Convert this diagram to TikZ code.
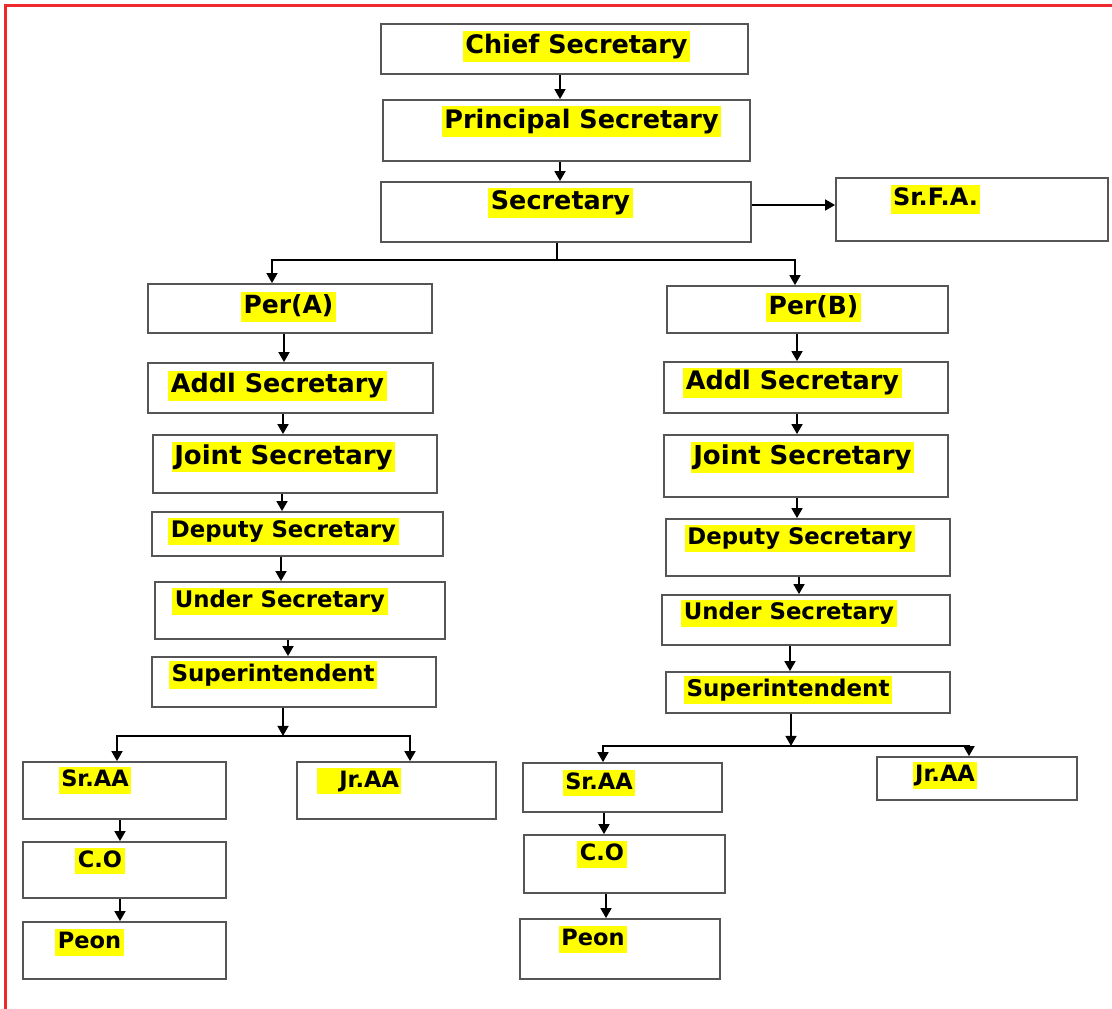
\documentclass[tikz,border=0pt]{standalone}
\usepackage{fontspec}
\setmainfont{DejaVu Sans}
\usetikzlibrary{arrows.meta}
\definecolor{hl}{RGB}{255,255,0}
\definecolor{boxgray}{RGB}{85,85,85}
\definecolor{frame}{RGB}{238,40,45}
\begin{document}
\begin{tikzpicture}[x=1pt,y=-1pt,
  org/.style={draw=boxgray, line width=1.8pt, inner sep=0pt},
  lbl/.style={fill=hl, inner xsep=2.5pt, inner ysep=2pt,
    text height=\dimexpr #1pt*78/100\relax, text depth=\dimexpr #1pt*24/100\relax,
    font=\fontsize{#1}{#1}\selectfont\bfseries},
  conn/.style={draw=black, line width=1.7pt},
  arr/.style={conn, -{Triangle[length=10pt,width=11pt]}}]
\useasboundingbox (0,0) rectangle (1112,1009);
\fill[white] (0,0) rectangle (1112,1009);
\draw[frame, line width=3pt] (1112,5.5) -- (5.5,5.5) -- (5.5,1009);

% boxes
\node[org, minimum width=367, minimum height=50] (chief) at (564.5,49) {};
\node[org, minimum width=367, minimum height=61] (prin) at (566.5,130.5) {};
\node[org, minimum width=370, minimum height=60] (sec) at (566,212) {};
\node[org, minimum width=272, minimum height=63] (srfa) at (972,209.5) {};
\node[org, minimum width=284, minimum height=49] (perA) at (290,308.5) {};
\node[org, minimum width=285, minimum height=50] (addA) at (290.5,388) {};
\node[org, minimum width=284, minimum height=58] (jointA) at (295,464) {};
\node[org, minimum width=291, minimum height=44] (depA) at (297.5,534) {};
\node[org, minimum width=290, minimum height=57] (underA) at (300,610.5) {};
\node[org, minimum width=284, minimum height=50] (supA) at (294,682) {};
\node[org, minimum width=203, minimum height=57] (sraaA) at (124.5,790.5) {};
\node[org, minimum width=203, minimum height=56] (coA) at (124.5,870) {};
\node[org, minimum width=203, minimum height=57] (peonA) at (124.5,950.5) {};
\node[org, minimum width=199, minimum height=57] (jraaA) at (396.5,790.5) {};
\node[org, minimum width=281, minimum height=47] (perB) at (807.5,309.5) {};
\node[org, minimum width=284, minimum height=51] (addB) at (806,387.5) {};
\node[org, minimum width=284, minimum height=62] (jointB) at (806,466) {};
\node[org, minimum width=284, minimum height=57] (depB) at (808,547.5) {};
\node[org, minimum width=288, minimum height=50] (underB) at (806,620) {};
\node[org, minimum width=284, minimum height=41] (supB) at (808,692.5) {};
\node[org, minimum width=199, minimum height=49] (sraaB) at (622.5,787.5) {};
\node[org, minimum width=201, minimum height=58] (coB) at (624.5,864) {};
\node[org, minimum width=200, minimum height=60] (peonB) at (620,949) {};
\node[org, minimum width=200, minimum height=43] (jraaB) at (977,778.5) {};

% labels
\node[lbl=25.5] (tchief) at (576.5,46.5) {Chief Secretary};
\node[lbl=25.5] (tprin) at (581.5,121.5) {Principal Secretary};
\node[lbl=25.5] (tsec) at (560.5,203) {Secretary};
\node[lbl=24] (tsrfa) at (935.5,199.5) {Sr.F.A.};
\node[lbl=25] (tperA) at (288.5,307) {Per(A)};
\node[lbl=25.5] (taddA) at (277.5,386) {Addl Secretary};
\node[lbl=26] (tjointA) at (283.5,457) {Joint Secretary};
\node[lbl=22.8] (tdepA) at (283.5,531.5) {Deputy Secretary};
\node[lbl=22.8] (tunderA) at (280,601.5) {Under Secretary};
\node[lbl=23] (tsupA) at (273,675) {Superintendent};
\node[lbl=22.5] (tsraaA) at (95,780.5) {Sr.AA};
\node[lbl=22.5] (tcoA) at (100,861) {C.O};
\node[lbl=22.5] (tpeonA) at (89.5,942.5) {Peon};
\node[lbl=22.5] (tjraaA) at (359,781) {\hspace{0.9em}Jr.AA};
\node[lbl=25] (tperB) at (813.5,307.5) {Per(B)};
\node[lbl=25.5] (taddB) at (792.5,383) {Addl Secretary};
\node[lbl=26] (tjointB) at (802.5,457.5) {Joint Secretary};
\node[lbl=22.8] (tdepB) at (800,538.5) {Deputy Secretary};
\node[lbl=22.8] (tunderB) at (789,613.5) {Under Secretary};
\node[lbl=23] (tsupB) at (788,690) {Superintendent};
\node[lbl=22.5] (tsraaB) at (599,783) {Sr.AA};
\node[lbl=22.5] (tcoB) at (602,854.5) {C.O};
\node[lbl=22.5] (tpeonB) at (593,939.5) {Peon};
\node[lbl=22.5] (tjraaB) at (945,775.5) {Jr.AA};

% top connectors
\draw[arr] ([xshift=-4.5]chief.south) -- ([xshift=-6.5]prin.north);
\draw[arr] ([xshift=-6.5]prin.south) -- ([xshift=-6]sec.north);
\draw[arr] ([yshift=7]sec.east) -- ([yshift=7]sec.east -| srfa.west);
\draw[conn] ([xshift=-9]sec.south) -- ++(0,17) coordinate (jS);
\draw[arr] (jS) -| ([xshift=-18]perA.north);
\draw[arr] (jS) -| ([xshift=-12.5]perB.north);

% column A
\draw[arr] ([xshift=-6]perA.south) -- ([xshift=-6.5]addA.north);
\draw[arr] ([xshift=-7.5]addA.south) -- ([xshift=-12]jointA.north);
\draw[arr] ([xshift=-13]jointA.south) -- ([xshift=-15.5]depA.north);
\draw[arr] ([xshift=-16.5]depA.south) -- ([xshift=-19]underA.north);
\draw[arr] ([xshift=-12]underA.south) -- ([xshift=-6]supA.north);
\draw[arr] ([xshift=-11]supA.south) -- ++(0,28) coordinate (jA);
\draw[arr] (jA) -| ([xshift=-7.5]sraaA.north);
\draw[arr] (jA) -| ([xshift=13.5]jraaA.north);
\draw[arr] ([xshift=-4.5]sraaA.south) -- ([xshift=-4.5]coA.north);
\draw[arr] ([xshift=-4.5]coA.south) -- ([xshift=-4.5]peonA.north);

% column B
\draw[arr] ([xshift=-10.5]perB.south) -- ([xshift=-9]addB.north);
\draw[arr] ([xshift=-9]addB.south) -- ([xshift=-9]jointB.north);
\draw[arr] ([xshift=-9]jointB.south) -- ([xshift=-11]depB.north);
\draw[arr] ([xshift=-9]depB.south) -- ([xshift=-7]underB.north);
\draw[arr] ([xshift=-16]underB.south) -- ([xshift=-18]supB.north);
\draw[arr] ([xshift=-17]supB.south) -- ++(0,32) coordinate (jB);
\draw[arr] (jB) -| ([xshift=-19.5]sraaB.north);
\draw[arr] (jB) -| ([xshift=-8]jraaB.north);
\draw[arr] ([xshift=-18.5]sraaB.south) -- ([xshift=-20.5]coB.north);
\draw[arr] ([xshift=-18.5]coB.south) -- ([xshift=-14]peonB.north);
\end{tikzpicture}
\end{document}
